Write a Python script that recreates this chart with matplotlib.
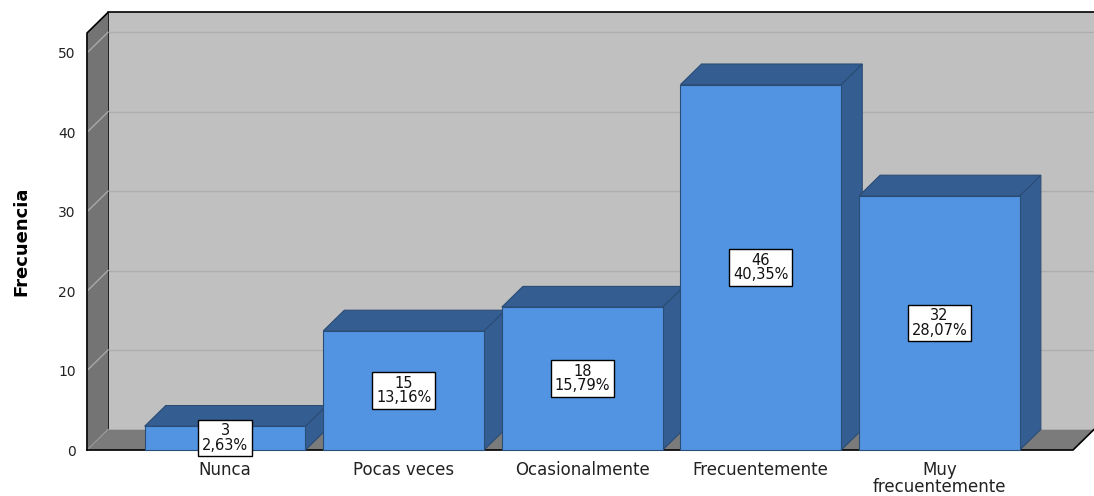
import matplotlib
matplotlib.use("Agg")
import matplotlib.pyplot as plt
from matplotlib.patches import Polygon, Rectangle

categories = ["Nunca", "Pocas veces", "Ocasionalmente", "Frecuentemente", "Muy\nfrecuentemente"]
counts = [3, 15, 18, 46, 32]
percents = ["2,63%", "13,16%", "15,79%", "40,35%", "28,07%"]
yticks = [0, 10, 20, 30, 40, 50]

plt.rcParams['font.family'] = ['DejaVu Sans']

front = '#5294e2'
dark = '#345e91'
edge_bar = '#2a4c75'

fig = plt.figure(figsize=(10.94, 4.96), dpi=100)
ax = fig.add_axes([0.0795, 0.0927, 0.9013, 0.8407])

x0, x1 = -0.773, 4.748
ytop = 52.5
dx, dy = 0.118, 2.6
w = 0.9

ax.set_xlim(x0, x1)
ax.set_ylim(0, ytop)
for s in ax.spines.values():
    s.set_visible(False)

# back wall
ax.add_patch(Rectangle((x0 + dx, dy), (x1 - x0), ytop, facecolor='#c0c0c0',
                       edgecolor='none', clip_on=False, zorder=1))
ax.plot([x0 + dx, x0 + dx, x1 + dx], [dy, ytop + dy, ytop + dy], color='black',
        lw=1.2, clip_on=False, zorder=2)
for t in yticks[1:]:
    ax.plot([x0 + dx, x1 + dx], [t + dy, t + dy], color='#aeaeae', lw=1,
            clip_on=False, zorder=1.5)

# left wall
ax.add_patch(Polygon([(x0, 0), (x0, ytop), (x0 + dx, ytop + dy), (x0 + dx, dy)],
                     closed=True, facecolor='#747474', edgecolor='none',
                     clip_on=False, zorder=2))
for t in yticks[1:]:
    ax.plot([x0, x0 + dx], [t, t + dy], color='#a8a8a8', lw=1, clip_on=False, zorder=2.1)
ax.plot([x0, x0, x0 + dx], [0, ytop, ytop + dy], color='black', lw=1.2,
        clip_on=False, zorder=2.2)

# floor
ax.add_patch(Polygon([(x0, 0), (x1, 0), (x1 + dx, dy), (x0 + dx, dy)], closed=True,
                     facecolor='#7b7b7b', edgecolor='none', clip_on=False, zorder=2))
ax.plot([x0, x1, x1 + dx], [0, 0, dy], color='black', lw=1.2, clip_on=False, zorder=2.2)
ax.plot([x0, x0 + dx], [0, dy], color='#9a9a9a', lw=0.8, clip_on=False, zorder=2.1)

# bars
for i, (v, p) in enumerate(zip(counts, percents)):
    xl, xr = i - w / 2, i + w / 2
    z = 3 + i
    ax.add_patch(Polygon([(xr, 0), (xr, v), (xr + dx, v + dy), (xr + dx, dy)], closed=True,
                         facecolor=dark, edgecolor=edge_bar, lw=0.8, clip_on=False, zorder=z))
    ax.add_patch(Polygon([(xl, v), (xr, v), (xr + dx, v + dy), (xl + dx, v + dy)], closed=True,
                         facecolor=dark, edgecolor=edge_bar, lw=0.8, clip_on=False, zorder=z))
    ax.add_patch(Rectangle((xl, 0), w, v, facecolor=front, edgecolor=edge_bar, lw=0.8,
                           clip_on=False, zorder=z + 0.1))
    ax.text(i, v / 2, f"{v}\n{p}", ha='center', va='center', fontsize=10.5,
            linespacing=0.95, zorder=20, color='#111111',
            bbox=dict(boxstyle='square,pad=0.25', facecolor='white', edgecolor='black', lw=1))

ax.set_xticks(range(len(categories)))
ax.set_xticklabels(categories, fontsize=12, linespacing=0.95, color='#222222')
ax.set_yticks(yticks)
ax.set_yticklabels([str(t) for t in yticks], fontsize=10, color='#222222')
ax.tick_params(axis='both', length=0)
ax.tick_params(axis='x', pad=8)
ax.tick_params(axis='y', pad=8)
ax.set_ylabel('Frecuencia', fontsize=13, fontweight='bold', labelpad=20)

fig.savefig('out.png', dpi=100)
